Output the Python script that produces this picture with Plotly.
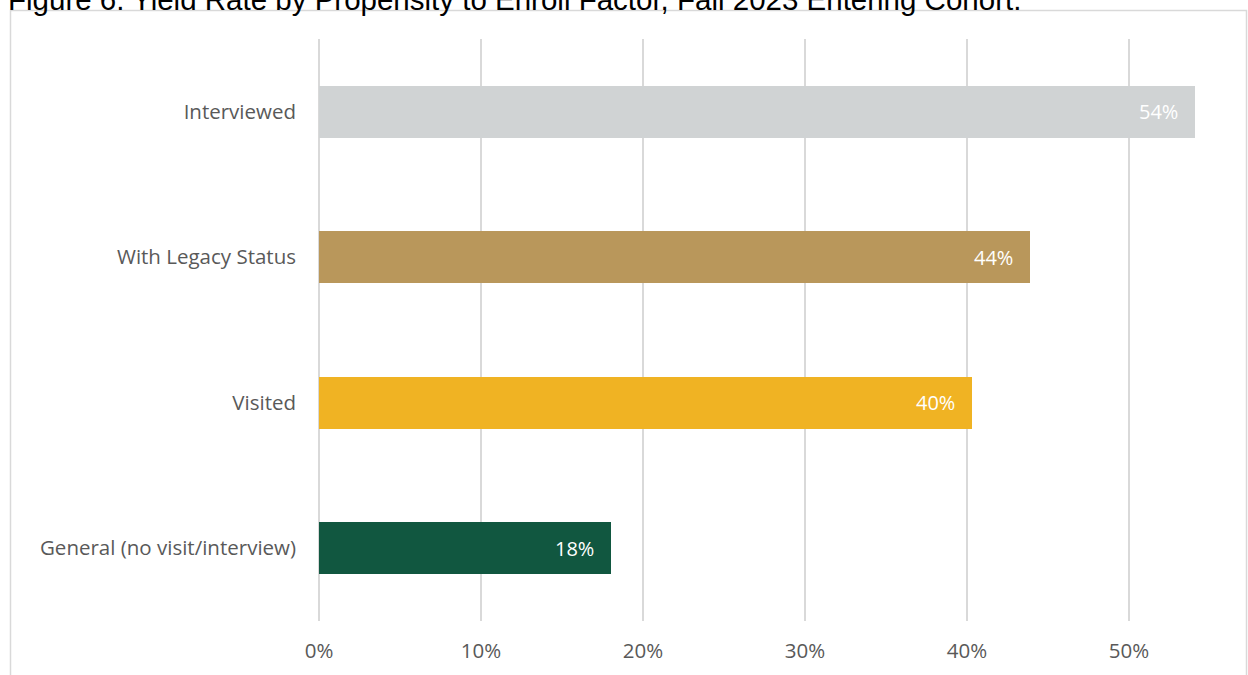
import plotly.graph_objects as go

categories = ["General (no visit/interview)", "Visited", "With Legacy Status", "Interviewed"]
values = [0.18, 0.403, 0.439, 0.541]
labels = ["18%", "40%", "44%", "54%"]
colors = ["#115740", "#F0B323", "#B9975B", "#D0D3D4"]

W, H = 1248, 675
L, R, T, B = 319, 38, 39, 54
pw, ph = W - L - R, H - T - B

fig = go.Figure(go.Bar(
    x=values, y=categories, orientation="h",
    marker=dict(color=colors, line=dict(width=0)),
    width=0.357,
    hoverinfo="skip",
))

for v, c, t in zip(values, categories, labels):
    fig.add_annotation(x=v, y=c, text=t, xanchor="right", xshift=-15,
                       showarrow=False,
                       font=dict(family="Open Sans", size=20, color="white"))

def px(x):
    return (x - L) / pw

def py(y):
    return (H - B - y) / ph

fig.add_shape(type="rect", xref="paper", yref="paper",
              x0=px(10.5), x1=px(1246.5), y0=py(700), y1=py(10.5),
              line=dict(color="#D9D9D9", width=1.5), layer="below")

fig.add_annotation(xref="paper", yref="paper", x=px(6), y=py(18),
                   xanchor="left", yanchor="bottom", showarrow=False,
                   text="Figure 6. Yield Rate by Propensity to Enroll Factor, Fall 2023 Entering Cohort.",
                   font=dict(family="Liberation Sans", size=29.5, color="black"))

fig.update_layout(
    width=W, height=H,
    margin=dict(l=L, r=R, t=T, b=B, autoexpand=False),
    paper_bgcolor="white", plot_bgcolor="white",
    showlegend=False, bargap=0,
    xaxis=dict(range=[0, 0.55], tickvals=[0, 0.1, 0.2, 0.3, 0.4, 0.5],
               tickformat=".0%", showgrid=True, gridcolor="#D9D9D9", gridwidth=1.5,
               zeroline=True, zerolinecolor="#D9D9D9", zerolinewidth=1.5,
               showline=False, ticks="", ticklen=0, ticklabelstandoff=15,
               automargin=False,
               tickfont=dict(family="Open Sans", size=20.5, color="#595959")),
    yaxis=dict(categoryorder="array", categoryarray=categories,
               showgrid=False, showline=False, ticks="", ticklen=0,
               ticklabelstandoff=22, automargin=False,
               tickfont=dict(family="Open Sans", size=20.5, color="#595959")),
)
fig.write_html("out.html", config={"displayModeBar": False},
               post_script="document.body.style.margin='0';document.body.style.overflow='hidden';")
